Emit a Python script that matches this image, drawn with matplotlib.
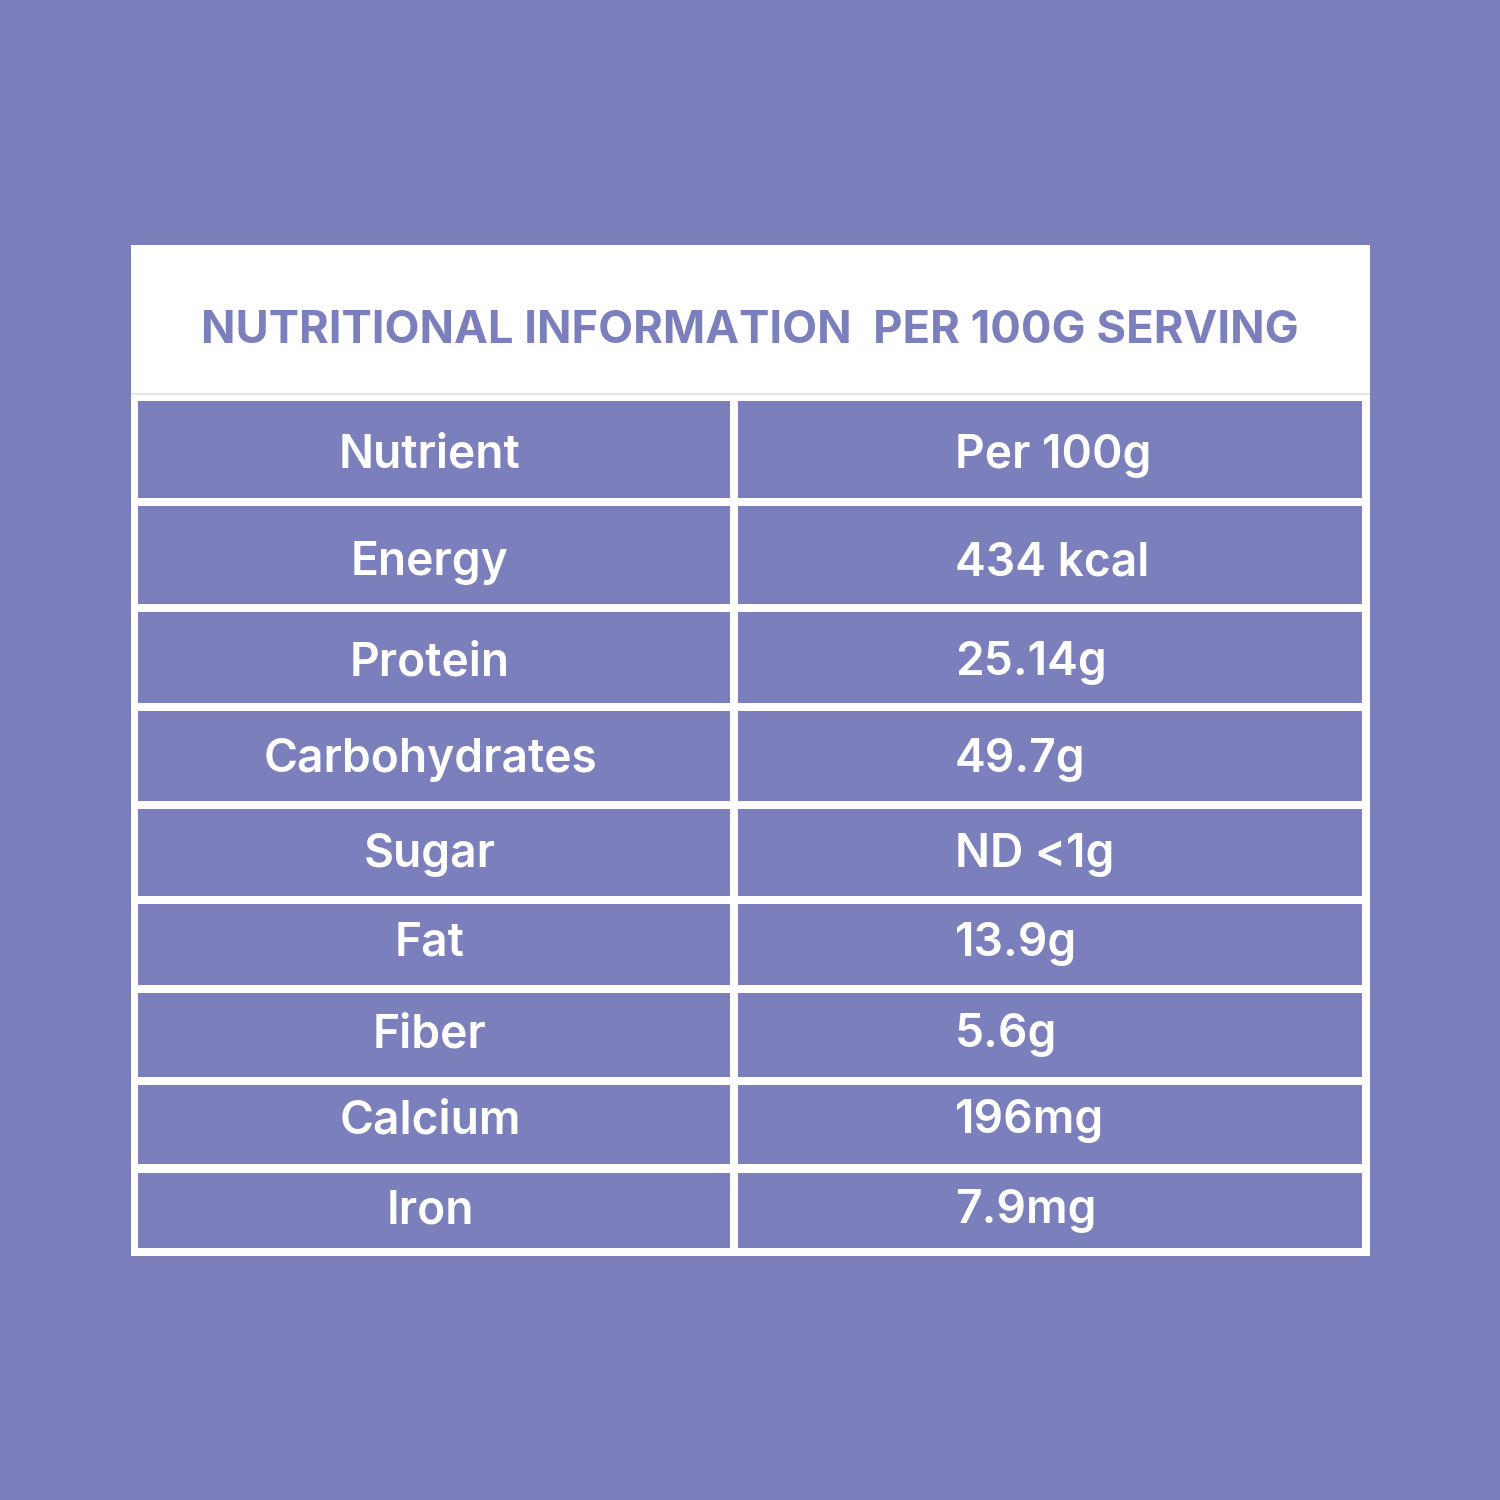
import matplotlib
matplotlib.use("Agg")
import matplotlib.pyplot as plt
from matplotlib.patches import Rectangle

# ---- data ----
title = "NUTRITIONAL INFORMATION  PER 100G SERVING"
header = ["Nutrient", "Per 100g"]
nutrients = ["Energy", "Protein", "Carbohydrates", "Sugar", "Fat", "Fiber", "Calcium", "Iron"]
values = ["434 kcal", "25.14g", "49.7g", "ND <1g", "13.9g", "5.6g", "196mg", "7.9mg"]

# ---- layout ----
BG = "#7B7FBC"
FONT = ["Inter", "DejaVu Sans"]
row_tops = [401, 506, 612, 711, 809, 904, 993, 1085, 1173]
row_bots = [498, 604, 703, 801, 896, 985, 1077, 1164, 1248]
baselines = [468, 575, 675, 772, 867, 956, 1047, 1133, 1223]
col_l = (138, 730)
col_r = (738, 1362)

fig = plt.figure(figsize=(15, 15), dpi=100)
fig.patch.set_facecolor(BG)
ax = fig.add_axes([0, 0, 1, 1])
ax.set_xlim(0, 1500)
ax.set_ylim(1500, 0)
ax.axis("off")

# white card
ax.add_patch(Rectangle((131, 245), 1370 - 131, 1256 - 245, facecolor="white", edgecolor="none"))
# separator line under title
ax.plot([131, 1370], [393.5, 393.5], color="#E2E2E2", lw=1.2, solid_capstyle="butt")

# cells
for t, b in zip(row_tops, row_bots):
    for (l, r) in (col_l, col_r):
        ax.add_patch(Rectangle((l, t), r - l, b - t, facecolor=BG, edgecolor="none"))

fig.canvas.draw()
renderer = fig.canvas.get_renderer()

def fit(txt, target_w, size0, **kw):
    t = ax.text(0, 0, txt, fontsize=size0, **kw)
    w = t.get_window_extent(renderer).width
    t.remove()
    return size0 * target_w / w

title_size = fit(title, 1097, 30, family=FONT, fontweight="bold")
ax.text(750, 343, title, fontsize=title_size, family=FONT, fontweight="bold",
        color=BG, ha="center", va="baseline")

cell_size = fit("Carbohydrates", 334, 28, family=FONT, fontweight="semibold")

labels_l = [header[0]] + nutrients
labels_r = [header[1]] + values
for y, a, v in zip(baselines, labels_l, labels_r):
    ax.text((col_l[0] + col_l[1]) / 2 - 4, y, a, fontsize=cell_size, family=FONT,
            fontweight="semibold", color="white", ha="center", va="baseline")
    ax.text(955, y, v, fontsize=cell_size, family=FONT,
            fontweight="semibold", color="white", ha="left", va="baseline")

fig.savefig("out.png", dpi=100, facecolor=BG)
